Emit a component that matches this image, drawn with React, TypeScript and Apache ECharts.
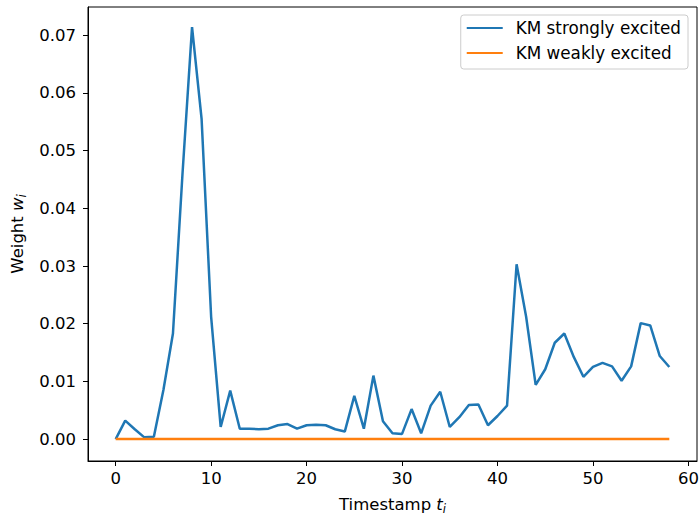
import React, { useEffect, useRef } from "react";
import * as echarts from "echarts";

const timestamps: number[] = Array.from({ length: 59 }, (_, i) => i);
const strongly: number[] = [
  0.0, 0.0032, 0.0017, 0.0003, 0.0004, 0.0085, 0.0183, 0.046, 0.0714, 0.0555,
  0.0212, 0.0021, 0.0084, 0.0018, 0.0018, 0.0017, 0.0018, 0.0024, 0.0026, 0.0018,
  0.0024, 0.0025, 0.0024, 0.0017, 0.0013, 0.0075, 0.0018, 0.011, 0.0031, 0.001,
  0.0009, 0.0052, 0.001, 0.0058, 0.0082, 0.0021, 0.0038, 0.0059, 0.006, 0.0024,
  0.004, 0.0058, 0.0303, 0.0212, 0.0094, 0.0121, 0.0167, 0.0183, 0.0142, 0.0108,
  0.0125, 0.0132, 0.0126, 0.0101, 0.0126, 0.0201, 0.0197, 0.0144, 0.0125,
];
const weakly: number[] = timestamps.map(() => 0);
const xTicks: number[] = [0, 10, 20, 30, 40, 50, 60];
const yTicks: number[] = [0, 0.01, 0.02, 0.03, 0.04, 0.05, 0.06, 0.07];
const seriesNames: string[] = ["KM strongly excited", "KM weakly excited"];

const FONT = "DejaVu Sans";
const FS = 16.5;

const richName = {
  n: { fontFamily: FONT, fontSize: FS, color: "#000" },
  i: { fontFamily: FONT, fontSize: FS, fontStyle: "italic", color: "#000" },
  s: { fontFamily: FONT, fontSize: 11.5, fontStyle: "italic", color: "#000", padding: [9, 0, 0, 0] },
};

export default function App() {
  const ref = useRef<HTMLDivElement>(null);
  useEffect(() => {
    if (!ref.current) return;
    const chart = echarts.init(ref.current, null, { renderer: "svg" });
    chart.setOption({
      animation: false,
      backgroundColor: "#fff",
      textStyle: { fontFamily: FONT },
      grid: {
        left: 88,
        right: 2,
        top: 7,
        bottom: 55,
        containLabel: false,
        outerBoundsMode: "none",
        show: true,
        borderColor: "#000",
        borderWidth: 1,
        backgroundColor: "transparent",
      },
      legend: {
        right: 11,
        top: 15,
        orient: "vertical",
        backgroundColor: "#fff",
        borderColor: "#ccc",
        borderWidth: 1,
        borderRadius: 3,
        padding: [3, 7, 6, 6],
        itemWidth: 36,
        itemHeight: 2,
        itemGap: 5,
        icon: "rect",
        textStyle: {
          fontFamily: FONT,
          fontSize: 16.8,
          lineHeight: 20,
          color: "#000",
          padding: [0, 0, 0, 8],
        },
        data: seriesNames,
      },
      xAxis: {
        type: "value",
        min: -2.9,
        max: 60.9,
        name: "{n|Timestamp }{i|t}{s|i}",
        nameLocation: "middle",
        nameGap: 33,
        nameTextStyle: { rich: richName },
        splitLine: { show: false },
        axisLine: { show: true, onZero: false, lineStyle: { color: "#000", width: 1 } },
        axisTick: { show: true, customValues: xTicks, length: 5, lineStyle: { color: "#000" } },
        axisLabel: {
          customValues: xTicks,
          color: "#000",
          fontSize: FS,
          fontFamily: FONT,
          margin: 9,
          formatter: (v: number) => String(v),
        },
      },
      yAxis: {
        type: "value",
        min: -0.0038,
        max: 0.0749,
        name: "{n|Weight }{i|w}{s|i}",
        nameLocation: "middle",
        nameGap: 58,
        nameTextStyle: { rich: richName },
        splitLine: { show: false },
        axisLine: { show: true, onZero: false, lineStyle: { color: "#000", width: 1 } },
        axisTick: { show: true, customValues: yTicks, length: 5, lineStyle: { color: "#000" } },
        axisLabel: {
          customValues: yTicks,
          color: "#000",
          fontSize: FS,
          fontFamily: FONT,
          margin: 12,
          formatter: (v: number) => v.toFixed(2),
        },
      },
      series: [
        {
          name: seriesNames[0],
          type: "line",
          data: timestamps.map((t, i) => [t, strongly[i]]),
          showSymbol: false,
          symbol: "none",
          lineStyle: { color: "#1f77b4", width: 2.5 },
          itemStyle: { color: "#1f77b4" },
        },
        {
          name: seriesNames[1],
          type: "line",
          data: timestamps.map((t, i) => [t, weakly[i]]),
          showSymbol: false,
          symbol: "none",
          lineStyle: { color: "#ff7f0e", width: 2.5 },
          itemStyle: { color: "#ff7f0e" },
        },
      ],
    });
    return () => chart.dispose();
  }, []);
  return <div ref={ref} style={{ width: 699, height: 516, position: "absolute", left: 0, top: 0 }} />;
}
